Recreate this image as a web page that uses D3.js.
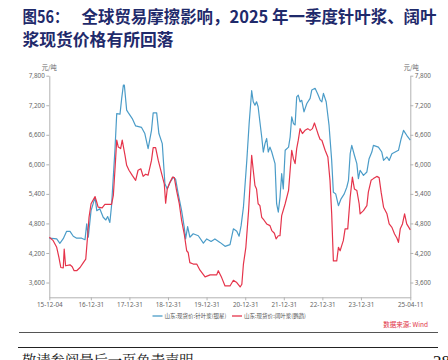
<!DOCTYPE html>
<html><head><meta charset="utf-8">
<script src="https://cdn.jsdelivr.net/npm/d3@7/dist/d3.min.js"></script>
<style>
html,body{margin:0;padding:0;background:#fff;}
svg{display:block;}
</style>
</head><body>
<svg id="c" width="448" height="360"></svg>
<script>
// ---- data ----
const seriesNames = ["山东:现货价:针叶浆(银星)", "山东:现货价:阔叶浆(鹦鹉)"];
const softwoodDates = ["2015-12-04","2016-02-12","2016-03-13","2016-04-14","2016-05-16","2016-06-17","2016-07-18","2016-08-19","2016-10-05","2016-11-06","2016-11-22","2016-12-07","2017-01-02","2017-02-09","2017-02-25","2017-03-26","2017-04-27","2017-05-22","2017-06-08","2017-06-29","2017-07-15","2017-08-16","2017-09-02","2017-10-03","2017-10-19","2017-11-04","2017-11-13","2017-12-05","2017-12-20","2018-01-27","2018-02-28","2018-04-25","2018-05-26","2018-06-26","2018-07-28","2018-08-13","2018-09-15","2018-10-06","2018-11-07","2018-12-02","2018-12-24","2019-01-20","2019-02-20","2019-03-13","2019-04-07","2019-05-09","2019-06-03","2019-06-16","2019-07-05","2019-07-26","2019-08-27","2019-10-14","2019-12-01","2020-01-02","2020-02-12","2020-03-19","2020-05-06","2020-06-23","2020-08-09","2020-09-10","2020-10-12","2020-11-03","2020-11-22","2020-12-14","2021-01-15","2021-02-06","2021-03-02","2021-03-17","2021-04-02","2021-04-17","2021-05-02","2021-05-19","2021-06-05","2021-06-20","2021-07-06","2021-07-22","2021-08-06","2021-08-22","2021-09-08","2021-10-09","2021-10-24","2021-11-09","2021-11-25","2021-12-11","2021-12-26","2022-01-13","2022-02-14","2022-03-01","2022-03-16","2022-04-01","2022-04-17","2022-05-02","2022-05-17","2022-06-03","2022-06-19","2022-07-10","2022-08-06","2022-09-06","2022-09-22","2022-10-23","2022-11-18","2022-12-10","2022-12-26","2023-01-10","2023-02-05","2023-03-04","2023-03-29","2023-04-14","2023-05-06","2023-06-01","2023-06-26","2023-07-26","2023-08-19","2023-09-04","2023-09-20","2023-10-05","2023-10-30","2023-11-22","2023-12-07","2023-12-23","2024-01-24","2024-02-25","2024-03-17","2024-04-12","2024-04-27","2024-06-13","2024-07-15","2024-08-01","2024-09-02","2024-09-23","2024-10-19","2024-11-19","2024-12-20","2025-01-15","2025-02-06","2025-03-08","2025-04-11"];
const softwoodValues = [4500,4485,4395,4490,4640,4640,4540,4500,4500,4470,4790,4520,5060,5330,5060,5100,4925,4870,4940,4820,5160,6285,7030,7020,7340,7610,7610,7100,7050,6930,6780,6750,6625,6320,6690,7045,7045,6625,6420,5605,5500,5640,5740,5700,5400,5060,4720,4485,4735,4520,4590,4550,4400,4485,4435,4485,4415,4335,4370,4690,4640,4540,4755,5130,6080,6830,7495,7270,7200,7270,7170,6860,6555,6250,6420,6525,6250,6350,6250,6015,5200,5030,5330,5810,5500,6285,6350,6555,6965,6830,6800,7370,7405,7270,7300,7065,7235,7340,7510,7545,7425,7305,7270,7440,7270,6795,6080,5435,5400,5160,5300,5400,5535,5675,6215,6385,6185,6015,5710,5880,5775,5845,6115,6250,6385,6350,6250,6080,6150,6080,6215,6250,6285,6525,6690,6590,6490];
const hardwoodDates = ["2015-12-04","2016-01-10","2016-02-12","2016-03-04","2016-03-22","2016-04-14","2016-04-23","2016-05-06","2016-06-17","2016-07-08","2016-07-26","2016-08-19","2016-09-20","2016-10-21","2016-11-13","2016-12-02","2016-12-14","2017-01-02","2017-02-09","2017-02-25","2017-03-10","2017-04-17","2017-05-13","2017-06-29","2017-07-15","2017-08-01","2017-08-16","2017-09-02","2017-09-17","2017-10-09","2017-10-24","2017-11-19","2017-12-05","2017-12-27","2018-01-27","2018-02-28","2018-03-23","2018-04-18","2018-05-10","2018-06-02","2018-06-26","2018-07-28","2018-08-13","2018-09-05","2018-09-30","2018-11-01","2018-11-26","2018-12-09","2018-12-24","2019-01-13","2019-02-11","2019-03-01","2019-03-22","2019-04-17","2019-05-09","2019-06-03","2019-06-26","2019-07-10","2019-07-26","2019-08-27","2019-09-29","2019-10-30","2019-12-17","2020-02-03","2020-04-05","2020-04-20","2020-05-22","2020-06-23","2020-08-09","2020-09-10","2020-10-12","2020-11-13","2020-11-29","2020-12-14","2021-01-06","2021-02-01","2021-03-02","2021-03-17","2021-04-02","2021-04-17","2021-05-02","2021-05-19","2021-06-05","2021-06-29","2021-07-22","2021-08-22","2021-09-08","2021-10-03","2021-10-19","2021-11-09","2021-11-25","2021-12-11","2022-01-13","2022-02-14","2022-03-01","2022-03-16","2022-04-01","2022-04-17","2022-05-02","2022-05-17","2022-06-03","2022-06-25","2022-07-20","2022-08-15","2022-09-06","2022-09-28","2022-10-17","2022-11-09","2022-11-24","2022-12-10","2022-12-26","2023-01-26","2023-02-21","2023-03-13","2023-03-29","2023-04-14","2023-05-16","2023-06-01","2023-06-17","2023-07-02","2023-07-17","2023-08-03","2023-08-28","2023-09-20","2023-10-11","2023-10-30","2023-11-22","2023-12-14","2023-12-23","2024-01-24","2024-02-25","2024-03-10","2024-04-05","2024-04-27","2024-05-29","2024-06-20","2024-07-09","2024-08-01","2024-09-02","2024-09-23","2024-10-19","2024-11-13","2024-12-05","2024-12-20","2025-01-06","2025-01-27","2025-02-16","2025-03-08","2025-04-11"];
const hardwoodValues = [4520,4450,4315,4110,3905,3895,4280,3940,3960,3920,3840,3840,3905,4005,4075,4585,4925,5200,5345,5230,5130,5115,5185,5185,5185,5370,5880,6490,6350,6320,6490,6185,5980,5880,5775,5675,5880,5910,5755,5800,5780,6080,6340,6340,6080,5810,5605,5210,5500,5605,5740,5730,5470,5200,4860,4585,4245,4210,4005,3975,3975,3850,3715,3755,3755,3840,3700,3530,3530,3645,3600,3510,3565,3975,4315,5060,6185,5880,5570,5500,5200,5160,4925,4860,4790,4755,4655,4600,4485,4550,4550,4960,5200,5470,5880,6285,6115,6015,6320,6490,6725,6625,6690,6725,6690,6725,6840,6690,6590,6505,6490,6285,6150,5675,4995,4040,4040,4315,4245,4350,4450,4690,4690,5330,5740,5500,5470,5200,4995,5060,5160,5435,5675,5710,5755,5730,5435,5130,4995,4790,4720,4585,4505,4415,4690,4790,4995,4790,4670];
const yTicks = [3600,4200,4800,5400,6000,6600,7200,7800];
const xTickLabels = ["15-12-04","16-12-31","17-12-31","18-12-31","19-12-31","20-12-31","21-12-31","22-12-31","23-12-31","25-04-11"];
const unitLabel = "元/吨";
const titleLine1a = "图56：";
const titleLine1b = "全球贸易摩擦影响，2025 年一季度针叶浆、阔叶";
const titleLine2 = "浆现货价格有所回落";
const sourceText = "数据来源: Wind";
const footerText = "敬请参阅最后一页免责声明";
const pageNo = "28";

// ---- drawing ----
(function(){
const svg = d3.select("#c");
const parse = d3.timeParse("%Y-%m-%d");
const parseTick = d3.timeParse("%y-%m-%d");
const fmtTick = d3.timeFormat("%y-%m-%d");
const pL = 49.3, pR = 410.3, pT = 75.7, pB = 297.3;
const x = d3.scaleTime().domain([parse("2015-12-04"), parse("2025-04-11")]).range([pL, pR]);
const y = d3.scaleLinear().domain([3300, 7800]).range([pB, pT]);

const titleColor = "#1f2a6b";
const cjk = "'Noto Sans CJK SC','Noto Sans',sans-serif";
svg.append("text").attr("x", 22.5).attr("y", 22.5).attr("fill", titleColor)
  .attr("font-family", cjk).attr("font-weight", "bold").attr("font-size", 16.5)
  .attr("textLength", 46).attr("lengthAdjust","spacingAndGlyphs").text(titleLine1a);
svg.append("text").attr("x", 81.5).attr("y", 22.5).attr("fill", titleColor)
  .attr("font-family", cjk).attr("font-weight", "bold").attr("font-size", 16.5)
  .attr("textLength", 355).attr("lengthAdjust","spacingAndGlyphs").text(titleLine1b);
svg.append("text").attr("x", 22.5).attr("y", 46).attr("fill", titleColor)
  .attr("font-family", cjk).attr("font-weight", "bold").attr("font-size", 16.5)
  .attr("textLength", 151).attr("lengthAdjust","spacingAndGlyphs").text(titleLine2);

const axisColor = "#b3b3b3";
const labelColor = "#666";
const tickFont = "'Noto Sans','DejaVu Sans',sans-serif";

function styleAxis(g){
  g.select(".domain").attr("stroke", axisColor);
  g.selectAll(".tick line").attr("stroke", axisColor);
  g.selectAll(".tick text").attr("fill", labelColor).attr("font-family", tickFont).attr("font-size", 6.3);
}

const gx = svg.append("g").attr("transform", `translate(0,${pB})`)
  .call(d3.axisBottom(x).tickValues(xTickLabels.map(parseTick)).tickFormat(fmtTick).tickSize(3).tickSizeOuter(0).tickPadding(2.5));
styleAxis(gx);
const gl = svg.append("g").attr("transform", `translate(${pL},0)`)
  .call(d3.axisLeft(y).tickValues(yTicks).tickFormat(d3.format(",")).tickSize(3).tickSizeOuter(0).tickPadding(1.5));
styleAxis(gl);
const gr = svg.append("g").attr("transform", `translate(${pR},0)`)
  .call(d3.axisRight(y).tickValues(yTicks).tickFormat(d3.format(",")).tickSize(3).tickSizeOuter(0).tickPadding(1.5));
styleAxis(gr);

svg.append("text").attr("x", pL).attr("y", 70).attr("text-anchor","middle")
  .attr("font-family", cjk).attr("font-size", 6.3).attr("fill", labelColor).text(unitLabel);
svg.append("text").attr("x", pR+1).attr("y", 70).attr("text-anchor","middle")
  .attr("font-family", cjk).attr("font-size", 6.3).attr("fill", labelColor).text(unitLabel);

const colors = ["#4b9cc8", "#e5344b"];
const line = d3.line().x(d => x(d[0])).y(d => y(d[1]));
const softData = softwoodDates.map((d,i) => [parse(d), softwoodValues[i]]);
const hardData = hardwoodDates.map((d,i) => [parse(d), hardwoodValues[i]]);
svg.append("path").datum(softData).attr("d", line).attr("fill","none")
  .attr("stroke", colors[0]).attr("stroke-width", 1.2).attr("stroke-linejoin","round");
svg.append("path").datum(hardData).attr("d", line).attr("fill","none")
  .attr("stroke", colors[1]).attr("stroke-width", 1.2).attr("stroke-linejoin","round");

// legend
const legX = [152.5, 232];
seriesNames.forEach((n,i) => {
  svg.append("line").attr("x1", legX[i]).attr("x2", legX[i]+10).attr("y1", 316).attr("y2", 316)
    .attr("stroke", colors[i]).attr("stroke-width", 1.3);
  svg.append("text").attr("x", legX[i]+12).attr("y", 318).attr("font-family", cjk)
    .attr("font-size", 5.8).attr("fill", "#555").attr("textLength", 62).attr("lengthAdjust","spacingAndGlyphs").text(n);
});

svg.append("text").attr("x", 428).attr("y", 326.5).attr("text-anchor","end")
  .attr("font-family", cjk).attr("font-size", 6.5).attr("fill", "#e0303f").text(sourceText);

svg.append("line").attr("x1", 19).attr("x2", 438).attr("y1", 332.5).attr("y2", 332.5)
  .attr("stroke", "#555").attr("stroke-width", 1);
svg.append("line").attr("x1", 18).attr("x2", 438).attr("y1", 347.5).attr("y2", 347.5)
  .attr("stroke", "#222").attr("stroke-width", 1);

svg.append("text").attr("x", 22).attr("y", 366).attr("font-family", "'Noto Serif CJK SC','Noto Sans CJK SC',serif")
  .attr("font-size", 14.3).attr("fill", "#111").text(footerText);
svg.append("text").attr("x", 433).attr("y", 367).attr("font-family", "'Liberation Serif',serif")
  .attr("font-size", 17).attr("fill", "#111").text(pageNo);
})();
</script>
</body></html>
